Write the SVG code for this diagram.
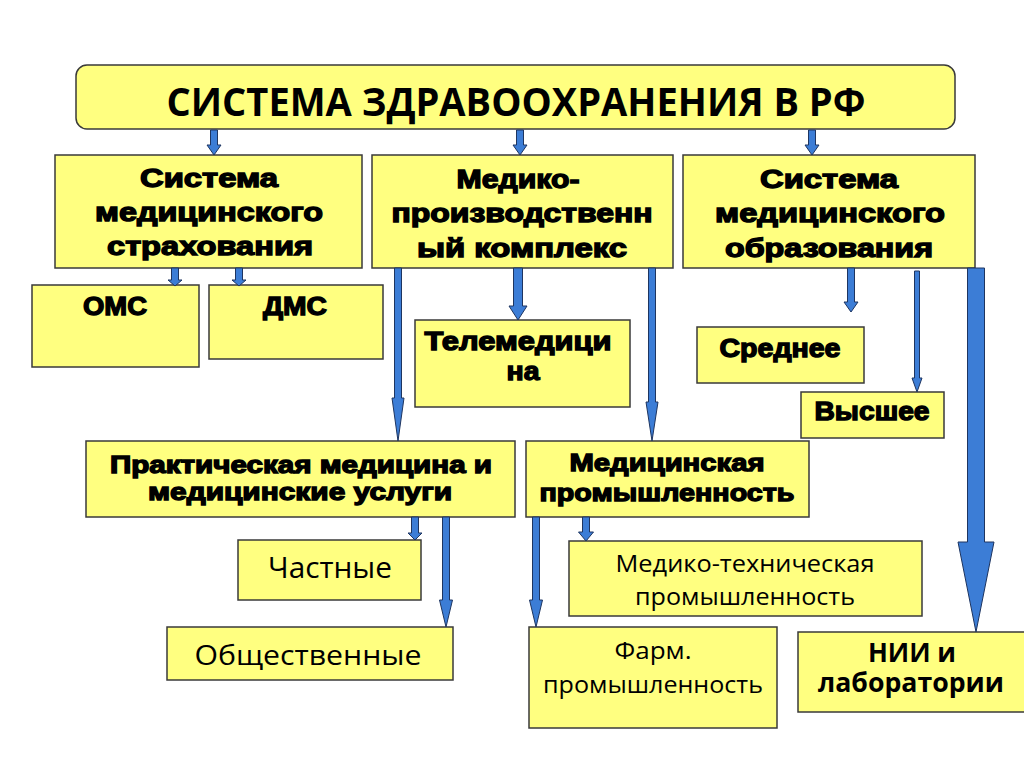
<svg xmlns="http://www.w3.org/2000/svg" width="1024" height="767" viewBox="0 0 1024 767">
<style>
.box{fill:#FFFF80;stroke:#3a3a3a;stroke-width:1.5}
.h{font-family:"Liberation Sans",Arial,sans-serif;font-weight:bold;fill:#000;stroke:#000;stroke-width:1.3;text-anchor:middle}
.r{font-family:"Open Sans","Liberation Sans",sans-serif;font-weight:500;fill:#000;text-anchor:middle}
.rb{font-family:"Open Sans","Liberation Sans",sans-serif;font-weight:bold;fill:#000;text-anchor:middle}
.arr{fill:#3C7DD6;stroke:#1E3560;stroke-width:1}
</style>
<rect width="1024" height="767" fill="#fff"/>
<g id="title">
<rect class="box" x="76" y="65" width="879" height="64" rx="11"/>
<text class="rb" x="516" y="116" font-size="40" textLength="699" lengthAdjust="spacingAndGlyphs">СИСТЕМА ЗДРАВООХРАНЕНИЯ В РФ</text>
</g>
<g id="insurance">
<rect class="box" x="55" y="155" width="307" height="113"/>
<text class="h" font-size="25"><tspan x="209" y="187" textLength="138" lengthAdjust="spacingAndGlyphs">Система</tspan><tspan x="209" y="221" textLength="228" lengthAdjust="spacingAndGlyphs">медицинского</tspan><tspan x="210" y="255" textLength="206" lengthAdjust="spacingAndGlyphs">страхования</tspan></text>
</g>
<g id="mpk">
<rect class="box" x="372" y="155" width="301" height="113"/>
<text class="h" font-size="25"><tspan x="518" y="188" textLength="123" lengthAdjust="spacingAndGlyphs">Медико-</tspan><tspan x="522" y="222" textLength="261" lengthAdjust="spacingAndGlyphs">производственн</tspan><tspan x="522" y="257" textLength="210" lengthAdjust="spacingAndGlyphs">ый комплекс</tspan></text>
</g>
<g id="education">
<rect class="box" x="683" y="155" width="292" height="113"/>
<text class="h" font-size="25"><tspan x="829" y="188" textLength="138" lengthAdjust="spacingAndGlyphs">Система</tspan><tspan x="830" y="222" textLength="230" lengthAdjust="spacingAndGlyphs">медицинского</tspan><tspan x="829" y="257" textLength="208" lengthAdjust="spacingAndGlyphs">образования</tspan></text>
</g>
<g id="oms">
<rect class="box" x="32" y="285" width="167" height="82"/>
<text class="h" x="115" y="315" font-size="25" textLength="64" lengthAdjust="spacingAndGlyphs">ОМС</text>
</g>
<g id="dms">
<rect class="box" x="209" y="285" width="174" height="74"/>
<text class="h" x="295" y="315" font-size="25" textLength="64" lengthAdjust="spacingAndGlyphs">ДМС</text>
</g>
<g id="telemed">
<rect class="box" x="415" y="320" width="215" height="87"/>
<text class="h" font-size="25"><tspan x="518" y="350" textLength="187" lengthAdjust="spacingAndGlyphs">Телемедици</tspan><tspan x="523" y="380" textLength="33" lengthAdjust="spacingAndGlyphs">на</tspan></text>
</g>
<g id="secondary">
<rect class="box" x="697" y="327" width="167" height="56"/>
<text class="h" x="780" y="357" font-size="25" textLength="121" lengthAdjust="spacingAndGlyphs">Среднее</text>
</g>
<g id="higher">
<rect class="box" x="801" y="392" width="143" height="46"/>
<text class="h" x="872" y="420" font-size="25" textLength="115" lengthAdjust="spacingAndGlyphs">Высшее</text>
</g>
<g id="practical">
<rect class="box" x="86" y="441" width="429" height="76"/>
<text class="h" font-size="23"><tspan x="301" y="473" textLength="382" lengthAdjust="spacingAndGlyphs">Практическая медицина и</tspan><tspan x="300" y="500" textLength="304" lengthAdjust="spacingAndGlyphs">медицинские услуги</tspan></text>
</g>
<g id="medindustry">
<rect class="box" x="526" y="441" width="283" height="76"/>
<text class="h" font-size="24"><tspan x="667" y="471" textLength="195" lengthAdjust="spacingAndGlyphs">Медицинская</tspan><tspan x="667" y="501" textLength="255" lengthAdjust="spacingAndGlyphs">промышленность</tspan></text>
</g>
<g id="private">
<rect class="box" x="238" y="540" width="183" height="60"/>
<text class="r" x="330" y="578" font-size="29" textLength="124" lengthAdjust="spacingAndGlyphs">Частные</text>
</g>
<g id="public">
<rect class="box" x="167" y="627" width="286" height="53"/>
<text class="r" x="308" y="665" font-size="28" textLength="227" lengthAdjust="spacingAndGlyphs">Общественные</text>
</g>
<g id="medtech">
<rect class="box" x="569" y="541" width="353" height="75"/>
<text class="r" font-size="24"><tspan x="745" y="572" textLength="259" lengthAdjust="spacingAndGlyphs">Медико-техническая</tspan><tspan x="745" y="605" textLength="220" lengthAdjust="spacingAndGlyphs">промышленность</tspan></text>
</g>
<g id="pharm">
<rect class="box" x="529" y="627" width="248" height="101"/>
<text class="r" font-size="23"><tspan x="653" y="659" textLength="77" lengthAdjust="spacingAndGlyphs">Фарм.</tspan><tspan x="653" y="693" textLength="220" lengthAdjust="spacingAndGlyphs">промышленность</tspan></text>
</g>
<g id="nii">
<rect class="box" x="798" y="632" width="240" height="80"/>
<text class="rb" font-size="26"><tspan x="912" y="662" textLength="88" lengthAdjust="spacingAndGlyphs">НИИ и</tspan><tspan x="911" y="692" textLength="186" lengthAdjust="spacingAndGlyphs">лаборатории</tspan></text>
</g>
<g id="connectors">
<polygon class="arr" points="210.5,130 217.5,130 217.5,145 221,145 214,155 207,145 210.5,145"/>
<polygon class="arr" points="516.5,130 523.5,130 523.5,145 527,145 520,155 513,145 516.5,145"/>
<polygon class="arr" points="808.5,130 815.5,130 815.5,145 819,145 812,155 805,145 808.5,145"/>
<polygon class="arr" points="171.5,268 178.5,268 178.5,280 182,280 175,286 168,280 171.5,280"/>
<polygon class="arr" points="235.5,268 242.5,268 242.5,280 246,280 239,286 232,280 235.5,280"/>
<polygon class="arr" points="394.5,268 401.5,268 401.5,398 404,398 398,441 392,398 394.5,398"/>
<polygon class="arr" points="513.5,268 522.5,268 522.5,306 527,306 518,320 509,306 513.5,306"/>
<polygon class="arr" points="648.5,268 655.5,268 655.5,402 658,402 652,441 646,402 648.5,402"/>
<polygon class="arr" points="847.5,268 854.5,268 854.5,302 858,302 851,312 844,302 847.5,302"/>
<polygon class="arr" points="914.5,271 919.5,271 919.5,378 922,378 917,392 912,378 914.5,378"/>
<polygon class="arr" points="967.5,268 984.5,268 984.5,542 994,542 976,632 958,542 967.5,542"/>
<polygon class="arr" points="411.5,517 418.5,517 418.5,533 422,533 415,540 408,533 411.5,533"/>
<polygon class="arr" points="442.5,517 449.5,517 449.5,600 452.5,600 446,627 439.5,600 442.5,600"/>
<polygon class="arr" points="532.5,517 539.5,517 539.5,600 542.5,600 536,627 529.5,600 532.5,600"/>
<polygon class="arr" points="582.5,517 589.5,517 589.5,532 593.5,532 586,541 578.5,532 582.5,532"/>
</g>
</svg>
